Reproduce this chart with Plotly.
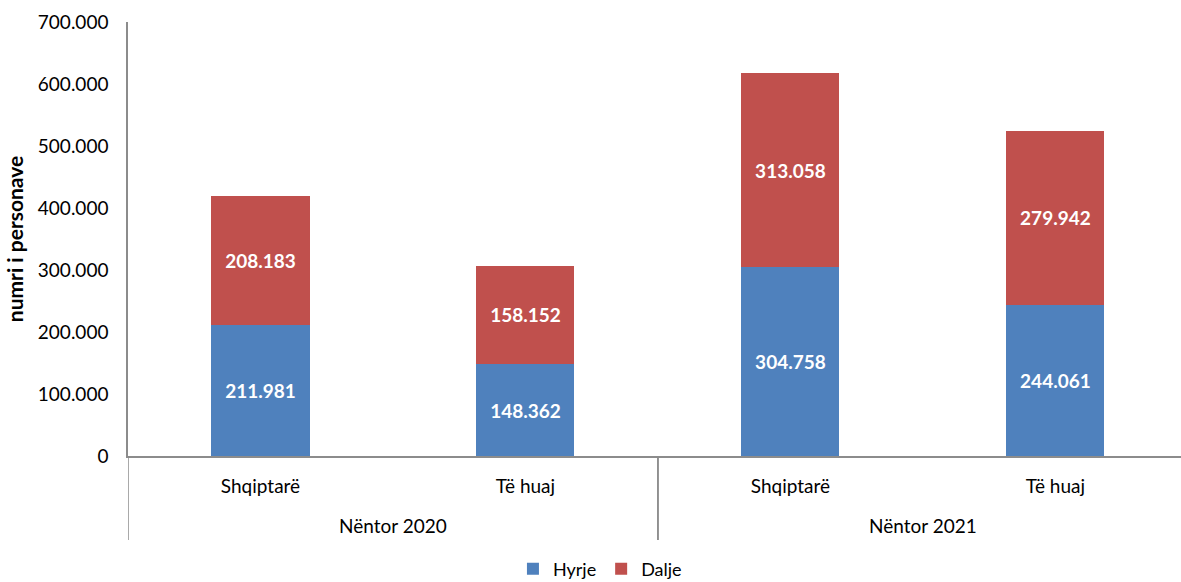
import plotly.graph_objects as go

groups = ["Nëntor 2020", "Nëntor 2020", "Nëntor 2021", "Nëntor 2021"]
categories = ["Shqiptarë", "Të huaj", "Shqiptarë", "Të huaj"]
hyrje = [211981, 148362, 304758, 244061]
dalje = [208183, 158152, 313058, 279942]
y_ticks = [0, 100000, 200000, 300000, 400000, 500000, 600000, 700000]

FONT = "Lato"
label_font = dict(family=FONT, size=19, color="white")
xpos = list(range(len(categories)))

fig = go.Figure()
fig.add_trace(go.Bar(
    name="Hyrje", x=xpos, y=hyrje,
    marker=dict(color="#4F81BD", line=dict(width=0)),
    texttemplate="<b>%{y:,d}</b>", textposition="inside",
    insidetextanchor="middle", textfont=label_font, width=0.37,
))
fig.add_trace(go.Bar(
    name="Dalje", x=xpos, y=dalje,
    marker=dict(color="#C0504D", line=dict(width=0)),
    texttemplate="<b>%{y:,d}</b>", textposition="inside",
    insidetextanchor="middle", textfont=label_font, width=0.37,
))

# group labels and dividers (multi-level category axis)
plot_h = 456 - 22
bottom = -(540 - 456) / plot_h
unique_groups = []
for g in groups:
    if g not in unique_groups:
        unique_groups.append(g)
for g in unique_groups:
    idx = [i for i, gg in enumerate(groups) if gg == g]
    fig.add_annotation(x=sum(idx) / len(idx), y=-(525 - 456) / plot_h, xref="x", yref="paper",
                       text=g, showarrow=False, font=dict(family=FONT, size=19),
                       xanchor="center", yanchor="middle")
    for edge in (min(idx) - 0.5, max(idx) + 0.5):
        fig.add_shape(type="line", x0=edge, x1=edge, y0=0, y1=bottom, xref="x", yref="paper",
                      line=dict(color="#8C8C8C", width=1.5))

fig.update_layout(
    barmode="stack",
    width=1181, height=582,
    margin=dict(l=128, r=0, t=22, b=126, autoexpand=False),
    separators=",.",
    plot_bgcolor="white", paper_bgcolor="white",
    font=dict(family=FONT, size=19, color="#000000"),
    showlegend=True,
    legend=dict(orientation="h", xref="container", x=0.508, xanchor="center",
                yref="paper", y=-(569 - 456) / plot_h, yanchor="middle",
                font=dict(family=FONT, size=18), itemwidth=30, traceorder="normal"),
    uniformtext=dict(mode="show", minsize=10),
)
fig.update_xaxes(
    range=[-0.5, 3.474], automargin=False,
    tickvals=xpos, ticktext=categories,
    showline=True, linecolor="#8C8C8C", linewidth=1.5,
    ticks="", tickfont=dict(family=FONT, size=19), ticklabelstandoff=12,
    showgrid=False, zeroline=False,
)
fig.update_yaxes(
    range=[0, 700000], automargin=False,
    tickvals=y_ticks, tickformat=",d",
    showline=True, linecolor="#8C8C8C", linewidth=1.5,
    showgrid=False, zeroline=False, ticks="", ticklabelstandoff=14,
    tickfont=dict(family=FONT, size=19),
    title=dict(text="<b>numri i personave</b>", font=dict(family=FONT, size=21), standoff=8),
)

fig.write_html("out.html", config={"displayModeBar": False},
               post_script="document.body.style.margin='0';document.body.style.overflow='hidden';")
